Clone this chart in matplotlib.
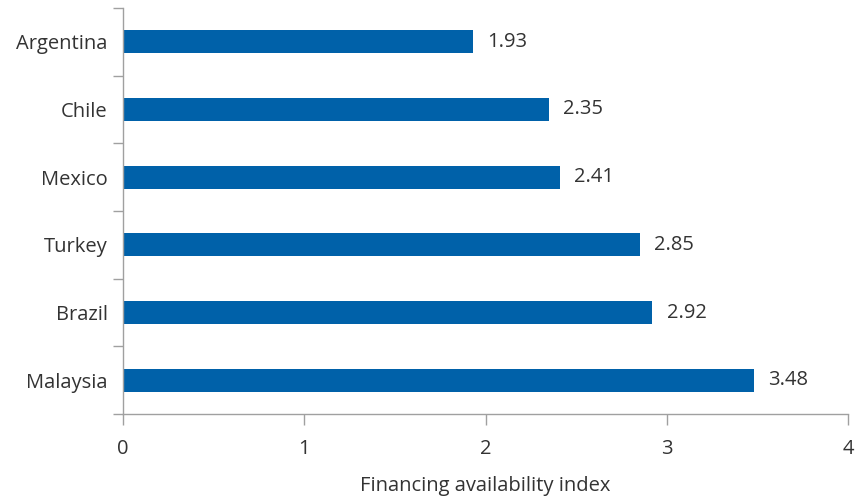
import matplotlib
matplotlib.use("Agg")
import matplotlib.pyplot as plt
import numpy as np

# data
countries = ["Argentina", "Chile", "Mexico", "Turkey", "Brazil", "Malaysia"]
values = [1.93, 2.35, 2.41, 2.85, 2.92, 3.48]
x_ticks = [0, 1, 2, 3, 4]

plt.rcParams['font.family'] = ['Open Sans', 'DejaVu Sans']

bar_color = "#0061a9"
text_color = "#333333"
axis_color = "#a0a0a0"
fs = 14.5

fig = plt.figure(figsize=(8.61, 5.0), dpi=100)
ax = fig.add_axes([0.1429, 0.172, 0.842, 0.812])

y = np.arange(len(countries))
ax.barh(y, values, height=0.34, color=bar_color)

# value labels to the right of each bar
for yi, v in zip(y, values):
    ax.text(v + 0.08, yi, f"{v:.2f}", va="center", ha="left",
            fontsize=fs, color=text_color)

ax.set_xlim(0, 4)
ax.set_ylim(len(countries) - 0.5, -0.5)
ax.set_xticks(x_ticks)
ax.set_xticklabels([str(t) for t in x_ticks], fontsize=fs, color=text_color)

# category labels at bar centres, tick marks between categories
ax.set_yticks(y)
ax.set_yticklabels(countries, fontsize=fs, color=text_color)
ax.set_yticks(np.arange(-0.5, len(countries)), minor=True)
ax.tick_params(axis="y", which="major", length=0, pad=11)
ax.tick_params(axis="y", which="minor", length=7, color=axis_color, width=1)
ax.tick_params(axis="x", length=8, color=axis_color, width=1, pad=10)

ax.set_xlabel("Financing availability index", fontsize=fs, color=text_color, labelpad=12)

for side in ["top", "right"]:
    ax.spines[side].set_visible(False)
for side in ["left", "bottom"]:
    ax.spines[side].set_color(axis_color)
    ax.spines[side].set_linewidth(1)

fig.savefig("out.png", dpi=100)
